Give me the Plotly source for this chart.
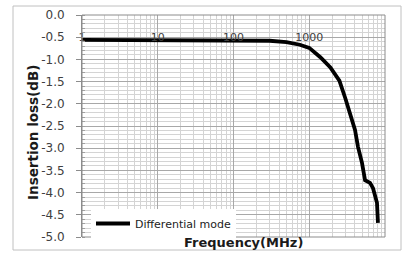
import plotly.graph_objects as go

# Data
freq_mhz = [1, 10, 100, 200, 300, 500, 750, 1000, 1400, 1900, 2500, 3000,
            3450, 4020, 4400, 4970, 5450, 6340, 6950, 7840, 8070]
insertion_loss_db = [-0.56, -0.56, -0.56, -0.57, -0.58, -0.61, -0.67, -0.74, -0.95, -1.18, -1.48, -1.88,
                     -2.21, -2.59, -2.97, -3.33, -3.72, -3.78, -3.90, -4.23, -4.68]
series_name = "Differential mode"

x_tick_vals = [1, 10, 100, 1000, 10000]
x_tick_text = ["1", "10", "100", "1000", "10000"]
y_tick_vals = [0.0, -0.5, -1.0, -1.5, -2.0, -2.5, -3.0, -3.5, -4.0, -4.5, -5.0]
y_tick_text = ["0.0", "-0.5", "-1.0", "-1.5", "-2.0", "-2.5", "-3.0", "-3.5", "-4.0", "-4.5", "-5.0"]
x_title = "Frequency(MHz)"
y_title = "Insertion loss(dB)"

FONT = "DejaVu Sans"
W, H = 402, 253
L, R, T, B = 82, 385, 15, 237
pw, ph = R - L, B - T

def px(x):
    return (x - L) / pw

def py(y):
    return (B - y) / ph

minor_x = [m * 10 ** d for d in range(4) for m in range(2, 10)]

fig = go.Figure()
fig.add_trace(go.Scatter(
    x=freq_mhz, y=insertion_loss_db, mode="lines", name=series_name,
    line=dict(color="black", width=3.8),
))

fig.update_layout(
    width=W, height=H,
    margin=dict(l=L, r=W - R, t=T, b=H - B, autoexpand=False),
    paper_bgcolor="white", plot_bgcolor="white",
    font=dict(family=FONT, color="#404040", size=11),
    showlegend=True,
    legend=dict(
        x=px(91), y=py(209), xanchor="left", yanchor="top",
        bgcolor="white", borderwidth=0,
        font=dict(family=FONT, size=11, color="#222222"),
        itemwidth=34,
    ),
    xaxis=dict(
        type="log", range=[0, 4], automargin=False,
        tickvals=x_tick_vals, ticktext=x_tick_text,
        side="top", anchor="free", position=0.875,
        showline=False, ticks="", zeroline=False,
        showgrid=True, gridcolor="#a8a8a8", gridwidth=1,
        minor=dict(tickvals=minor_x, showgrid=True, gridcolor="#d4d4d4", gridwidth=1),
        tickfont=dict(family=FONT, size=11, color="#404040"),
    ),
    yaxis=dict(
        range=[-5, 0], automargin=False,
        tickvals=y_tick_vals, ticktext=y_tick_text,
        showline=True, linecolor="#8c8c8c", linewidth=1,
        ticks="outside", ticklen=5, tickcolor="#8c8c8c",
        ticklabelstandoff=9,
        showgrid=True, gridcolor="#a8a8a8", gridwidth=1,
        minor=dict(dtick=0.1, showgrid=True, gridcolor="#d4d4d4", gridwidth=1,
                   ticks="inside", ticklen=3, tickcolor="#a0a0a0"),
        zeroline=False,
        tickfont=dict(family=FONT, size=12, color="#404040"),
    ),
    shapes=[
        dict(type="rect", xref="x domain", yref="y domain", x0=0, x1=1, y0=0, y1=1,
             line=dict(color="#8c8c8c", width=1), layer="above"),
        dict(type="rect", xref="paper", yref="paper",
             x0=px(13), x1=px(401), y0=py(250), y1=py(6),
             line=dict(color="#c0c0c0", width=1), layer="below"),
    ],
    annotations=[
        dict(text=f"<b>{x_title}</b>", xref="paper", yref="paper",
             x=px(243), y=py(242), xanchor="center", yanchor="middle",
             showarrow=False, font=dict(family=FONT, size=13, color="#1a1a1a")),
        dict(text=f"<b>{y_title}</b>", xref="paper", yref="paper",
             x=px(33), y=py(133), xanchor="center", yanchor="middle", textangle=-90,
             showarrow=False, font=dict(family=FONT, size=13.5, color="#1a1a1a")),
    ],
)

fig.write_html("out.html", config={"displayModeBar": False},
               post_script="document.body.style.margin='0';document.body.style.overflow='hidden';")
